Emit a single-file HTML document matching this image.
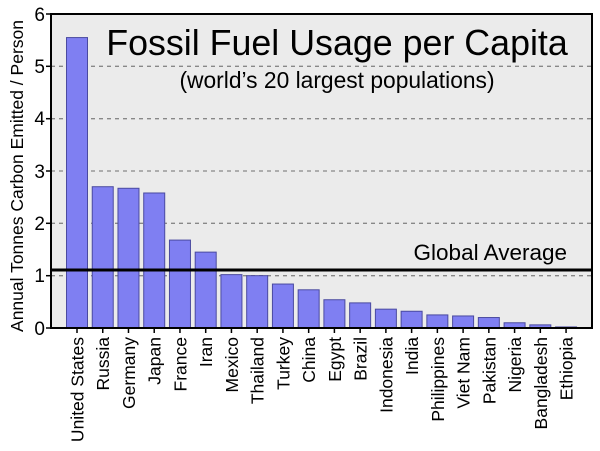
<!DOCTYPE html>
<html><head><style>body{margin:0;background:#fff}svg{display:block}</style></head><body>
<svg width="600" height="451" viewBox="0 0 600 451" xmlns="http://www.w3.org/2000/svg" font-family="Liberation Sans, sans-serif">
<rect x="51" y="14" width="541" height="314" fill="#ebebeb"/>
<g stroke="#888" stroke-width="1.3" stroke-dasharray="4,4">
<line x1="51" x2="592" y1="66.3" y2="66.3"/><line x1="51" x2="592" y1="118.7" y2="118.7"/><line x1="51" x2="592" y1="171" y2="171"/><line x1="51" x2="592" y1="223.3" y2="223.3"/><line x1="51" x2="592" y1="275.7" y2="275.7"/>
</g>
<g id="bars" fill="#7f7ff2" stroke="#4a4aa0" stroke-width="1"></g>
<line x1="51" x2="592" y1="270" y2="270" stroke="#000" stroke-width="3"/>
<rect x="51" y="14" width="541" height="314" fill="none" stroke="#000" stroke-width="2"/>
<g font-size="19" text-anchor="end" fill="#000">
<text x="45" y="21">6</text><text x="45" y="73">5</text><text x="45" y="125">4</text><text x="45" y="178">3</text><text x="45" y="230">2</text><text x="45" y="282">1</text><text x="45" y="335">0</text>
</g>
<g stroke="#000" stroke-width="1.5"><line x1="46" x2="51" y1="14" y2="14"/><line x1="46" x2="51" y1="66.3" y2="66.3"/><line x1="46" x2="51" y1="118.7" y2="118.7"/><line x1="46" x2="51" y1="171" y2="171"/><line x1="46" x2="51" y1="223.3" y2="223.3"/><line x1="46" x2="51" y1="275.7" y2="275.7"/><line x1="46" x2="51" y1="328" y2="328"/></g>
<text transform="translate(23,176) rotate(-90)" font-size="17.5" text-anchor="middle">Annual Tonnes Carbon Emitted / Person</text>
<text x="337" y="55" font-size="35.8" text-anchor="middle">Fossil Fuel Usage per Capita</text>
<text x="337" y="88" font-size="22.8" text-anchor="middle">(world’s 20 largest populations)</text>
<text x="567" y="260" font-size="22.5" text-anchor="end">Global Average</text>
<g id="lab" font-size="17.5" text-anchor="end"></g>
<g id="tk" stroke="#000" stroke-width="1.5"></g>
<script>
var v=[5.55,2.7,2.67,2.58,1.68,1.45,1.02,1.0,0.84,0.73,0.54,0.48,0.36,0.32,0.25,0.23,0.2,0.1,0.06,0.02];
var n=["United States","Russia","Germany","Japan","France","Iran","Mexico","Thailand","Turkey","China","Egypt","Brazil","Indonesia","India","Philippines","Viet Nam","Pakistan","Nigeria","Bangladesh","Ethiopia"];
var ns="http://www.w3.org/2000/svg",b=document.getElementById("bars"),l=document.getElementById("lab"),t=document.getElementById("tk");
for(var i=0;i<20;i++){var c=77+i*25.74,h=v[i]*52.33;
var r=document.createElementNS(ns,"rect");r.setAttribute("x",c-10.5);r.setAttribute("width",21);r.setAttribute("y",328-h);r.setAttribute("height",h);b.appendChild(r);
var s=document.createElementNS(ns,"text");s.setAttribute("transform","translate("+(c+6.5)+",337) rotate(-90)");s.textContent=n[i];l.appendChild(s);
var k=document.createElementNS(ns,"line");k.setAttribute("x1",c);k.setAttribute("x2",c);k.setAttribute("y1",328);k.setAttribute("y2",333);t.appendChild(k);}
</script>
</svg>
</body></html>
